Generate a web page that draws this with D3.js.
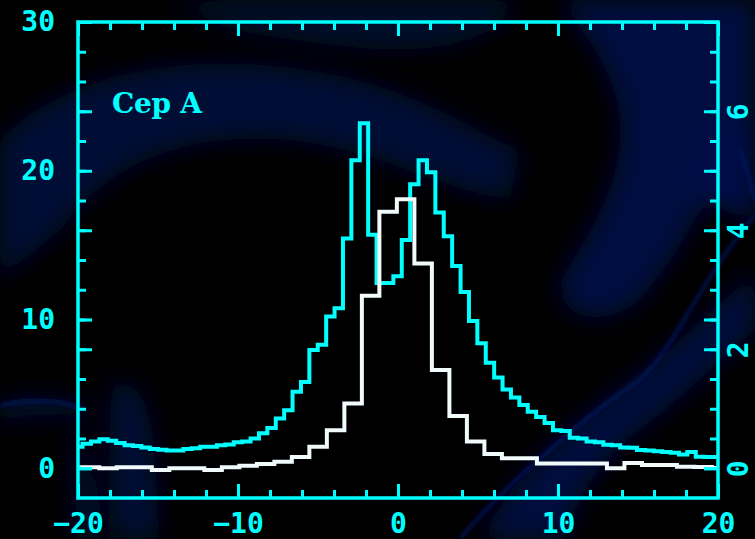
<!DOCTYPE html>
<html lang="en">
<head>
    <meta charset="UTF-8">
    <title>Cep A</title>
    <script src="https://d3js.org/d3.v7.min.js"></script>
    <style>
        body { margin: 0; background: #000; }
        svg { display: block; }
    </style>
</head>
<body>
    <svg width="755" height="539"></svg>

    <script>
        // cyan histogram (left axis), bins of 0.525 starting at -20.24
        const cyanStart = -20.24;
        const cyanWidth = 0.525;
        const cyanCounts = [
            1.45, 1.65, 1.8, 1.95, 1.85, 1.7, 1.55, 1.5, 1.4, 1.3,
            1.25, 1.2, 1.2, 1.3, 1.35, 1.45, 1.45, 1.55, 1.6, 1.75,
            1.8, 2.0, 2.35, 2.7, 3.35, 3.9, 5.15, 5.8, 7.95, 8.3,
            10.2, 10.75, 15.45, 20.7, 23.2, 15.7, 12.45, 12.45, 12.9, 15.35,
            19.1, 20.7, 19.9, 17.2, 15.6, 13.6, 11.85, 9.9, 8.4, 7.1,
            6.1, 5.3, 4.75, 4.25, 3.8, 3.45, 3.05, 2.55, 2.5, 2.05,
            2.0, 1.8, 1.75, 1.58, 1.55, 1.4, 1.38, 1.22, 1.2, 1.15,
            1.1, 1.05, 0.92, 1.1, 0.78, 0.76, 0.75
        ];

        // white histogram (right axis), bins of 1.094 starting at -20.856
        const whiteStart = -20.856;
        const whiteWidth = 1.094;
        const whiteCounts = [
            0.015, 0.015, 0.0, 0.015, 0.015, -0.03, 0.0, 0.0, -0.03, 0.015,
            0.04, 0.07, 0.11, 0.19, 0.36, 0.64, 1.09, 2.9, 4.31, 4.52,
            3.44, 1.65, 0.88, 0.45, 0.24, 0.17, 0.17, 0.08, 0.08, 0.08,
            0.08, 0.0, 0.09, 0.055, 0.055, 0.026, 0.02, 0.005
        ];

        const xTicks = [-20, -10, 0, 10, 20];
        const leftTicks = [0, 10, 20, 30];
        const rightTicks = [0, 2, 4, 6];
        const label = "Cep A";

        const width = 755;
        const height = 539;
        const margin = {top: 22, right: 37, bottom: 41, left: 78};
        const cyan = "#00ffff";
        const white = "#f2fbfb";
        const font = "'DejaVu Sans Mono', 'Liberation Mono', monospace";
        const labelFont = "'DejaVu Serif', serif";

        const svg = d3.select("svg")
            .attr("width", width)
            .attr("height", height);

        const x = d3.scaleLinear().domain([-20, 20]).range([margin.left, width - margin.right]);
        const yLeft = d3.scaleLinear().domain([-2, 30]).range([height - margin.bottom, margin.top]);
        const yRight = d3.scaleLinear().domain([-0.5, 7.5]).range([height - margin.bottom, margin.top]);

        const defs = svg.append("defs");
        defs.append("filter").attr("id", "blur")
            .attr("x", "-20%").attr("y", "-20%").attr("width", "140%").attr("height", "140%")
            .append("feGaussianBlur").attr("stdDeviation", 12);
        defs.append("filter").attr("id", "soft")
            .append("feGaussianBlur").attr("stdDeviation", 2);
        defs.append("clipPath").attr("id", "plot")
            .append("rect")
            .attr("x", margin.left).attr("y", margin.top)
            .attr("width", width - margin.left - margin.right)
            .attr("height", height - margin.top - margin.bottom);

        // background: black with dark blue swirls
        svg.append("rect").attr("width", width).attr("height", height).attr("fill", "#000");

        const swirls = [
            {d: "M0,140 C70,70 190,50 320,72 C420,90 470,130 520,150 L510,200 C440,190 380,150 290,140 C190,132 110,160 60,230 L0,280 Z", c: "#030a36"},
            {d: "M170,0 L520,0 C500,40 440,60 330,45 C260,36 210,30 170,0 Z", c: "#02072c"},
            {d: "M560,0 L755,0 L755,120 C720,160 700,230 640,300 C600,330 560,320 560,280 C600,220 640,150 610,80 C595,40 570,20 560,0 Z", c: "#030c40"},
            {d: "M700,140 C730,130 755,120 755,120 L755,220 C730,215 700,200 690,180 Z", c: "#040e48"},
            {d: "M480,539 C510,480 570,425 625,385 C670,350 720,305 755,270 L755,330 C720,360 680,400 640,430 C600,460 575,500 565,539 Z", c: "#030b3c"},
            {d: "M115,380 C150,380 158,430 158,539 L115,539 C112,470 104,420 115,380 Z", c: "#030936"},
            {d: "M0,400 C30,394 70,394 95,410 L82,422 C60,414 30,416 0,422 Z", c: "#020830"},
            {d: "M72,430 C90,440 98,490 98,539 L76,539 Z", c: "#030936"}
        ];
        svg.append("g").attr("filter", "url(#blur)")
            .selectAll("path")
            .data(swirls)
            .enter()
            .append("path")
            .attr("d", d => d.d)
            .attr("fill", d => d.c);

        // a few thin streaks
        const streaks = [
            "M460,539 C500,490 580,420 640,380 C680,340 700,280 755,215",
            "M0,405 C30,400 60,398 85,410",
            "M740,150 C748,170 752,190 755,200"
        ];
        svg.append("g").attr("filter", "url(#soft)")
            .selectAll("path")
            .data(streaks)
            .enter()
            .append("path")
            .attr("d", d => d)
            .attr("fill", "none")
            .attr("stroke", "#061660")
            .attr("stroke-width", 3);

        // step histograms
        function steps(start, w, counts) {
            const pts = counts.map((c, i) => [start + i * w, c]);
            pts.push([start + counts.length * w, counts[counts.length - 1]]);
            return pts;
        }

        const plot = svg.append("g").attr("clip-path", "url(#plot)");

        const cyanLine = d3.line()
            .x(d => x(d[0]))
            .y(d => yLeft(d[1]))
            .curve(d3.curveStepAfter);
        const whiteLine = d3.line()
            .x(d => x(d[0]))
            .y(d => yRight(d[1]))
            .curve(d3.curveStepAfter);

        plot.append("path")
            .datum(steps(cyanStart, cyanWidth, cyanCounts))
            .attr("d", cyanLine)
            .attr("fill", "none")
            .attr("stroke", cyan)
            .attr("stroke-width", 4);

        plot.append("path")
            .datum(steps(whiteStart, whiteWidth, whiteCounts))
            .attr("d", whiteLine)
            .attr("fill", "none")
            .attr("stroke", white)
            .attr("stroke-width", 4);

        // axes: ticks inside on all four sides
        const xMinor = d3.range(-18, 20, 2);
        const yMinor = d3.range(2, 30, 2);

        function style(g) {
            g.select(".domain").remove();
            g.selectAll("line").attr("stroke", cyan).attr("stroke-width", 3);
            g.selectAll("text")
                .attr("fill", cyan)
                .style("font-family", font)
                .style("font-weight", "bold")
                .style("font-size", "28px");
        }

        const bottom = height - margin.bottom;
        const right = width - margin.right;

        svg.append("g").attr("transform", `translate(0,${bottom})`)
            .call(d3.axisBottom(x).tickValues(xMinor).tickSize(-8).tickFormat(""))
            .call(style);
        svg.append("g").attr("transform", `translate(0,${bottom})`)
            .call(d3.axisBottom(x).tickValues(xTicks).tickSize(-14).tickPadding(15).tickFormat(d3.format("d")))
            .call(style);

        svg.append("g").attr("transform", `translate(0,${margin.top})`)
            .call(d3.axisTop(x).tickValues(xMinor).tickSize(-8).tickFormat(""))
            .call(style);
        svg.append("g").attr("transform", `translate(0,${margin.top})`)
            .call(d3.axisTop(x).tickValues(xTicks).tickSize(-14).tickFormat(""))
            .call(style);

        svg.append("g").attr("transform", `translate(${margin.left},0)`)
            .call(d3.axisLeft(yLeft).tickValues(yMinor).tickSize(-8).tickFormat(""))
            .call(style);
        svg.append("g").attr("transform", `translate(${margin.left},0)`)
            .call(d3.axisLeft(yRight).tickValues(rightTicks).tickSize(-14).tickFormat(""))
            .call(style);
        svg.append("g").attr("transform", `translate(${margin.left},0)`)
            .call(d3.axisLeft(yLeft).tickValues(leftTicks).tickSize(-14).tickPadding(23))
            .call(style);

        svg.append("g").attr("transform", `translate(${right},0)`)
            .call(d3.axisRight(yLeft).tickValues(yMinor).tickSize(-8).tickFormat(""))
            .call(style);
        svg.append("g").attr("transform", `translate(${right},0)`)
            .call(d3.axisRight(yLeft).tickValues(leftTicks).tickSize(-14).tickFormat(""))
            .call(style);
        const rAxis = svg.append("g").attr("transform", `translate(${right},0)`)
            .call(d3.axisRight(yRight).tickValues(rightTicks).tickSize(-14))
            .call(style);
        rAxis.selectAll("text")
            .attr("x", null)
            .attr("dy", null)
            .attr("text-anchor", "middle")
            .attr("transform", "translate(30,0) rotate(-90)");

        // frame
        svg.append("rect")
            .attr("x", margin.left).attr("y", margin.top)
            .attr("width", right - margin.left)
            .attr("height", bottom - margin.top)
            .attr("fill", "none")
            .attr("stroke", cyan)
            .attr("stroke-width", 3.5);

        svg.append("text")
            .attr("x", 112)
            .attr("y", 113)
            .attr("fill", cyan)
            .attr("textLength", 90)
            .style("font-family", labelFont)
            .style("font-weight", "bold")
            .style("font-size", "28px")
            .text(label);
    </script>
</body>
</html>
